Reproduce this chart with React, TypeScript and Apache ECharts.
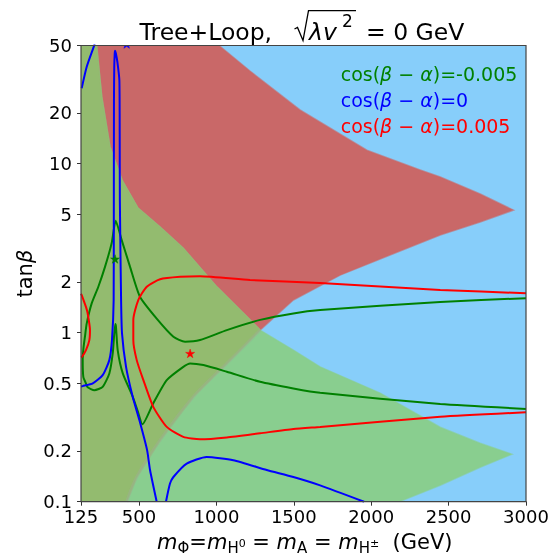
import React, { useEffect, useRef } from 'react';
import * as echarts from 'echarts';

const FONT = 'DejaVu Sans';

// axis ticks
const xTicks = [125, 500, 1000, 1500, 2000, 2500, 3000];
const yTicks = [0.1, 0.2, 0.5, 1, 2, 5, 10, 20, 50];

// contour lines [m (GeV), tanβ]
const greenLine = [
  [3000, 1.6], [2446, 1.52], [1670, 1.36], [1497, 1.3], [1282, 1.19], [1067, 1.036], [894, 0.904], [797, 0.884],
  [722, 0.946], [614, 1.21], [506, 1.63], [442, 2.45], [388, 3.53], [349, 4.59], [323, 3.38], [280, 2.45],
  [237, 1.87], [194, 1.49], [162, 1.135], [151, 0.955], [141, 0.81], [136, 0.688], [140, 0.548], [157, 0.501],
  [168, 0.475], [211, 0.457], [265, 0.478], [308, 0.574], [330, 0.754], [340, 0.99], [347, 1.124], [351, 1.084],
  [362, 0.789], [395, 0.574], [459, 0.418], [493, 0.34], [522, 0.287], [592, 0.382], [679, 0.524], [786, 0.628],
  [830, 0.658], [916, 0.643], [1067, 0.587], [1282, 0.512], [1497, 0.468], [1670, 0.441], [2446, 0.378], [3000, 0.354],
];
const blueTop = [[129.5, 27.9], [162, 37.4], [209, 49.6], [213, 51]];
const blueSpike = [
  [125, 0.481], [136, 0.483], [201, 0.501], [265, 0.561], [308, 0.688], [325, 0.904], [336, 1.56], [337, 4.64],
  [338, 23.8], [340, 38], [343, 45], [345, 46.6], [350, 45], [360, 40], [373, 31], [375, 15], [376, 6.09],
  [384, 1.56], [390, 0.99], [416, 0.628], [459, 0.418], [502, 0.304], [552, 0.202], [571, 0.154], [614, 0.1],
];
const blueBottom = [
  [674, 0.1], [700, 0.128], [722, 0.14], [808, 0.168], [937, 0.184], [1109, 0.176], [1325, 0.154], [1497, 0.14],
  [1670, 0.125], [1954, 0.1],
];
const redSmall = [[125, 1.7], [129.5, 1.67], [157, 1.42], [168, 1.3], [183, 1.036], [179, 0.904], [157, 0.789], [131.5, 0.72], [125, 0.715]];
const redBig = [
  [3000, 1.71], [2446, 1.79], [1670, 1.97], [1217, 2.05], [894, 2.16], [765, 2.14], [636, 2.07], [550, 1.87],
  [495, 1.56], [463, 1.19], [463, 0.904], [485, 0.688], [528, 0.524], [592, 0.364], [679, 0.277], [786, 0.242],
  [894, 0.234], [1067, 0.24], [1282, 0.254], [1497, 0.269], [1670, 0.277], [2446, 0.318], [3000, 0.338],
];

// markers
const greenStar = [345, 2.73];
const redStar = [830, 0.754];
const blueStar = [420, 51];

// region boundaries [m, tanβ]
const redUpperEdge = [[1017, 50], [1217, 35.3], [1540, 20.8], [1972, 12.0], [2316, 9.17], [2446, 8.33], [2704, 6.61], [2919, 5.31]];
const redLowerRight = [[1282, 1.036], [1497, 1.56], [1799, 2.19], [2122, 2.88], [2446, 3.78], [2704, 4.51], [2919, 5.31]];
const redLowerLeft = [[1282, 1.036], [1067, 0.658], [851, 0.418], [636, 0.231], [485, 0.14], [420, 0.1]];
const greenUpperLeft = [[226, 50], [259, 24.9], [312, 12.6], [390, 8.0], [493, 5.46], [636, 4.22], [784, 3.17], [1004, 1.86], [1217, 1.19], [1282, 1.036]];
const greenUpperRight = [[1282, 1.036], [1497, 0.789], [1670, 0.628], [2058, 0.439], [2446, 0.276], [2704, 0.222], [2909, 0.191]];
const greenLowerEdge = [[2181, 0.1], [2446, 0.125], [2704, 0.16], [2909, 0.191]];

const legendValues = ['-0.005', '0', '0.005'];
const legendColors = ['#008000', '#0000ff', '#ff0000'];

const lg = (v: number) => Math.log10(v);
const X0 = 125, X1 = 3000, Y0 = 0.1, Y1 = 50;

const starPath = 'M0,-1 L0.2245,-0.309 L0.951,-0.309 L0.363,0.118 L0.588,0.809 L0,0.382 L-0.588,0.809 L-0.363,0.118 L-0.951,-0.309 L-0.2245,-0.309 Z';

function polySeries(pts: number[][], color: string, z: number) {
  return {
    type: 'custom',
    coordinateSystem: 'cartesian2d',
    clip: true,
    silent: true,
    z,
    data: [[pts[0][0], lg(pts[0][1])]],
    encode: { x: 0, y: 1 },
    renderItem: (_p: any, api: any) => ({
      type: 'polygon',
      shape: { points: pts.map((p) => api.coord([p[0], lg(p[1])])) },
      style: { fill: color, stroke: color, lineWidth: 1.5, strokeOpacity: 0.6 },
    }),
  };
}

function lineSeries(pts: number[][], color: string, width = 2, z = 5, smooth: any = 0.2) {
  return {
    type: 'line',
    data: pts.map((p) => [p[0], lg(p[1])]),
    showSymbol: false,
    symbol: 'none',
    smooth,
    clip: true,
    silent: true,
    z,
    lineStyle: { color, width },
  };
}

function starSeries(pt: number[], color: string) {
  return {
    type: 'custom',
    coordinateSystem: 'cartesian2d',
    clip: true,
    silent: true,
    z: 8,
    data: [[pt[0], lg(pt[1])]],
    encode: { x: 0, y: 1 },
    renderItem: (_p: any, api: any) => {
      const c = api.coord([api.value(0), api.value(1)]);
      return {
        type: 'path',
        shape: { pathData: starPath, x: c[0] - 4.5, y: c[1] - 4.5, width: 9, height: 9 },
        style: { fill: color, stroke: color, lineWidth: 0.5 },
      };
    },
  };
}

export default function App() {
  const ref = useRef<HTMLDivElement>(null);
  useEffect(() => {
    const chart = echarts.init(ref.current!, null, { renderer: 'svg' });

    const redPoly = [[X0, Y1], ...redUpperEdge, ...redLowerRight.slice(0, -1).reverse(), ...redLowerLeft.slice(1), [X0, Y0]];
    const greenPoly = [[X0, Y1], ...greenUpperLeft, ...greenUpperRight.slice(1), ...greenLowerEdge.slice(0, -1).reverse(), [X0, Y0]];
    const olivePoly = [[X0, Y1], ...greenUpperLeft, ...redLowerLeft.slice(1), [X0, Y0]];

    const yFmt = (v: number) => {
      const t = yTicks.find((tv) => Math.abs(lg(tv) - v) < 1e-6);
      return t === undefined ? '' : String(t);
    };

    const legendRich = (color: string) => ({
      n: { fontSize: 19, fontFamily: FONT, fill: color, color },
      i: { fontSize: 19, fontFamily: FONT, fontStyle: 'italic', fill: color, color },
    });

    const option: any = {
      animation: false,
      textStyle: { fontFamily: FONT },
      grid: {
        left: 81, right: 28, top: 45.5, bottom: 54.3,
        show: true, backgroundColor: '#87CEFA', borderWidth: 0,
        containLabel: false, outerBoundsMode: 'none',
      },
      xAxis: {
        type: 'value', min: X0, max: X1,
        splitLine: { show: false },
        axisLine: { show: true, onZero: false, lineStyle: { color: '#333', width: 1 } },
        axisTick: { show: true, length: 4, customValues: xTicks, lineStyle: { color: '#333' } },
        axisLabel: { customValues: xTicks, formatter: (v: number) => String(v), fontSize: 18, color: '#000', margin: 6, fontFamily: FONT },
      },
      yAxis: {
        type: 'value', min: lg(Y0), max: lg(Y1),
        splitLine: { show: false },
        axisLine: { show: true, onZero: false, lineStyle: { color: '#333', width: 1 } },
        axisTick: { show: true, length: 4, customValues: yTicks.map(lg), lineStyle: { color: '#333' } },
        axisLabel: { customValues: yTicks.map(lg), formatter: yFmt, fontSize: 18, color: '#000', margin: 9, fontFamily: FONT },
      },
      series: [
        polySeries(redPoly, '#C96868', 1),
        polySeries(greenPoly, '#89CE8F', 2),
        polySeries(olivePoly, '#93BB6F', 3),
        lineSeries(redLowerLeft, 'rgba(160,172,150,0.45)', 3, 4, 0.3),
        lineSeries(greenLine, '#008000'),
        lineSeries(blueTop, '#0000ff'),
        lineSeries(blueSpike, '#0000ff'),
        lineSeries(blueBottom, '#0000ff'),
        lineSeries(redSmall, '#ff0000'),
        lineSeries(redBig, '#ff0000'),
        starSeries(greenStar, '#008000'),
        starSeries(redStar, '#ff0000'),
        starSeries(blueStar, '#0000ff'),
      ],
      graphic: [
        {
          type: 'rect', z: 100, silent: true,
          shape: { x: 81, y: 45.5, width: 445, height: 456.2 },
          style: { fill: 'none', stroke: '#444', lineWidth: 1.2 },
        },
        // title
        { type: 'text', z: 100, x: 139.6, y: 31.5, style: { text: 'Tree+Loop,', fontSize: 23.5, fontFamily: FONT, fill: '#000', align: 'left', verticalAlign: 'middle' } },
        { type: 'polyline', z: 100, shape: { points: [[294.5, 29], [297.5, 27.5], [303, 40.5], [308.5, 10.6], [356, 10.6]] }, style: { stroke: '#000', lineWidth: 1.3, fill: 'none' } },
        { type: 'text', z: 100, x: 309, y: 31.5, style: { text: 'λv', fontSize: 23.5, fontStyle: 'italic', fontFamily: FONT, fill: '#000', align: 'left', verticalAlign: 'middle' } },
        { type: 'text', z: 100, x: 342, y: 20.6, style: { text: '2', fontSize: 17, fontFamily: FONT, fill: '#000', align: 'left', verticalAlign: 'middle' } },
        { type: 'text', z: 100, x: 366, y: 31.5, style: { text: '= 0 GeV', fontSize: 23.5, fontFamily: FONT, fill: '#000', align: 'left', verticalAlign: 'middle' } },
        // legend-like labels
        ...legendValues.map((v, k) => ({
          type: 'text', z: 100, x: 340.7, y: 73.5 + k * 26,
          style: {
            text: `{n|cos(}{i|β}{n| − }{i|α}{n|)=${v}}`,
            rich: legendRich(legendColors[k]),
            fill: legendColors[k],
            align: 'left', verticalAlign: 'middle',
          },
        })),
        // y axis name
        {
          type: 'text', z: 100, x: 24.5, y: 273.6, rotation: Math.PI / 2,
          style: {
            text: '{n|tan}{i|β}',
            rich: {
              n: { fontSize: 21, fontFamily: FONT, fill: '#000' },
              i: { fontSize: 21, fontFamily: FONT, fontStyle: 'italic', fill: '#000' },
            },
            align: 'center', verticalAlign: 'middle',
          },
        },
        // x axis name
        {
          type: 'text', z: 100, x: 304.8, y: 542,
          style: {
            text: '{i|m}{s|Φ}{n|=}{i|m}{s|H}{ss|0}{n| = }{i|m}{s|A}{n| = }{i|m}{s|H}{ss|±}{n|  (GeV)}',
            rich: {
              n: { fontSize: 21, fontFamily: FONT, fill: '#000', lineHeight: 27 },
              i: { fontSize: 21, fontFamily: FONT, fontStyle: 'italic', fill: '#000', lineHeight: 27 },
              s: { fontSize: 15, fontFamily: FONT, fill: '#000', lineHeight: 15, verticalAlign: 'bottom' },
              ss: { fontSize: 11, fontFamily: FONT, fill: '#000', lineHeight: 11, padding: [0, 0, 7, 0], verticalAlign: 'bottom' },
            },
            align: 'center', verticalAlign: 'middle',
          },
        },
      ],
    };
    chart.setOption(option);
    return () => chart.dispose();
  }, []);
  return <div ref={ref} style={{ position: 'fixed', left: 0, top: 0, width: 554, height: 556 }} />;
}
